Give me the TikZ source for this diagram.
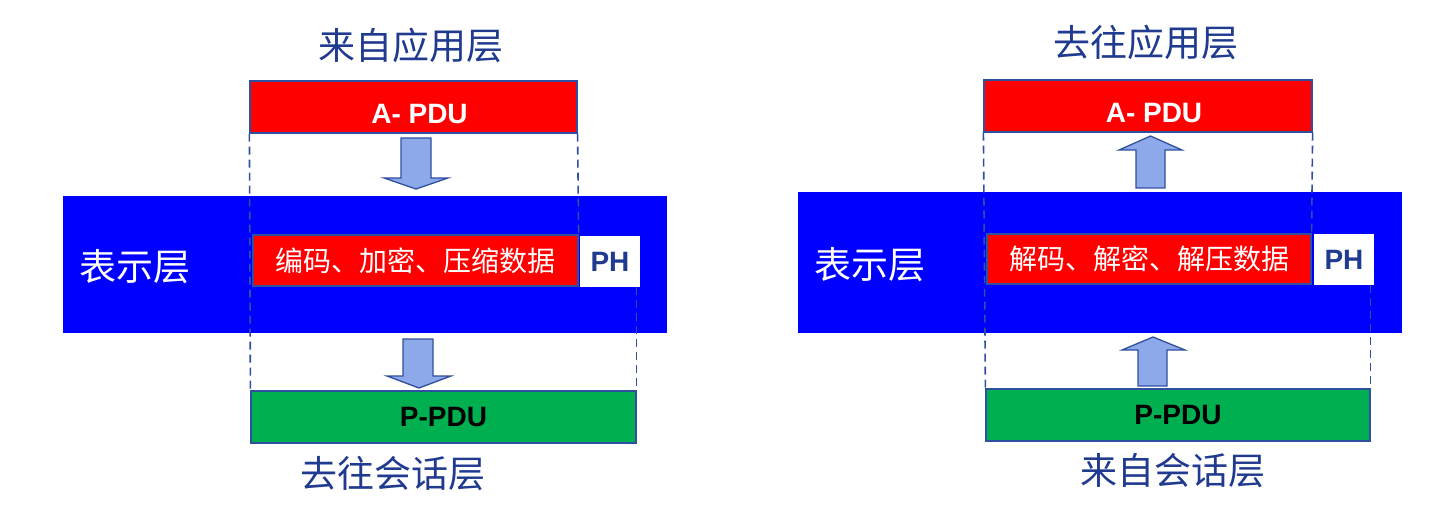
\documentclass[tikz,border=0pt]{standalone}
\usepackage{fontspec}
\setmainfont{Liberation Sans}
\newfontfamily\cjk{Noto Sans CJK SC}
\definecolor{pred}{HTML}{FF0000}
\definecolor{pblue}{HTML}{0000FF}
\definecolor{pgreen}{HTML}{00B050}
\definecolor{dkblue}{HTML}{1F3A8F}
\definecolor{edge}{HTML}{2F4F9F}
\definecolor{arrfill}{HTML}{8EA9EA}
\tikzset{
  box/.style={draw=edge, line width=1.2pt, inner sep=0pt, anchor=center},
  redbox/.style={box, fill=pred, text=white},
  greenbox/.style={box, fill=pgreen, text=black},
  phbox/.style={fill=white, inner sep=0pt, text=dkblue, font=\fontsize{28}{30}\selectfont\bfseries},
  band/.style={fill=pblue, inner sep=0pt},
  pdufont/.style={font=\fontsize{28}{30}\selectfont\bfseries},
  cjkbox/.style={font=\cjk\fontsize{28}{30}\selectfont},
  title/.style={text=dkblue, font=\cjk\fontsize{37}{40}\selectfont, inner sep=0pt},
  layer/.style={text=white, font=\cjk\fontsize{37}{40}\selectfont, inner sep=0pt},
  guide/.style={draw=edge, line width=1.6pt, dash pattern=on 8pt off 5pt},
  fatarrow/.style={draw=edge, line width=1.3pt, fill=arrfill, line join=miter},
}
\begin{document}
\begin{tikzpicture}[x=1pt,y=-1pt]
\useasboundingbox (0,0) rectangle (1432,513);
% ---------- left panel ----------
\node[band, minimum width=604pt, minimum height=137pt] (bandL) at (365,264.5) {};
\node[title] (tL1) at (411,45) {来自应用层};
\node[title] (tL2) at (393,474) {去往会话层};
\node[layer] (lyL) at (135,267) {表示层};
\node[redbox, minimum width=327pt, minimum height=52pt] (apduL) at (413.5,107) {};
\node[text=white, pdufont, inner sep=0pt] (apduLt) at ([xshift=6pt,yshift=-7pt]apduL.center) {A- PDU};
\node[redbox, cjkbox, minimum width=325pt, minimum height=51pt] (encL) at (415.5,260.5) {编码、加密、压缩数据};
\node[phbox, minimum width=60pt, minimum height=51pt] (phL) at (610,261.5) {PH};
\node[greenbox, pdufont, minimum width=385pt, minimum height=52pt] (ppduL) at (443.5,417) {P-PDU};
\draw[guide] (apduL.south west) -- (ppduL.north west);
\draw[guide] (apduL.south east) -- (encL.north east);
\draw[guide] (ppduL.north east |- phL.south) -- (ppduL.north east);
\draw[fatarrow] (401,138) -- (431,138) -- (431,178) -- (448,178) -- (416,189) -- (384,178) -- (401,178) -- cycle;
\draw[fatarrow] (403,339) -- (433,339) -- (433,376) -- (451,376) -- (419,388) -- (387,376) -- (403,376) -- cycle;
% ---------- right panel ----------
\node[band, minimum width=604pt, minimum height=141pt] (bandR) at (1100,262.5) {};
\node[title] (tR1) at (1146,42) {去往应用层};
\node[title] (tR2) at (1173,471) {来自会话层};
\node[layer] (lyR) at (870,265) {表示层};
\node[redbox, minimum width=328pt, minimum height=52pt] (apduR) at (1148,106) {};
\node[text=white, pdufont, inner sep=0pt] (apduRt) at ([xshift=6pt,yshift=-7pt]apduR.center) {A- PDU};
\node[redbox, cjkbox, minimum width=324pt, minimum height=50pt] (decR) at (1149,259) {解码、解密、解压数据};
\node[phbox, minimum width=60pt, minimum height=51pt] (phR) at (1344,259.5) {PH};
\node[greenbox, pdufont, minimum width=384pt, minimum height=52pt] (ppduR) at (1178,415) {P-PDU};
\draw[guide] (apduR.south west) -- (ppduR.north west);
\draw[guide] (apduR.south east) -- (decR.north east);
\draw[guide] (ppduR.north east |- phR.south) -- (ppduR.north east);
\draw[fatarrow] (1136,188) -- (1165,188) -- (1165,150) -- (1182,150) -- (1150.5,136) -- (1119,150) -- (1136,150) -- cycle;
\draw[fatarrow] (1138,386) -- (1167,386) -- (1167,350) -- (1185,350) -- (1153,337) -- (1122,350) -- (1138,350) -- cycle;
\end{tikzpicture}
\end{document}
